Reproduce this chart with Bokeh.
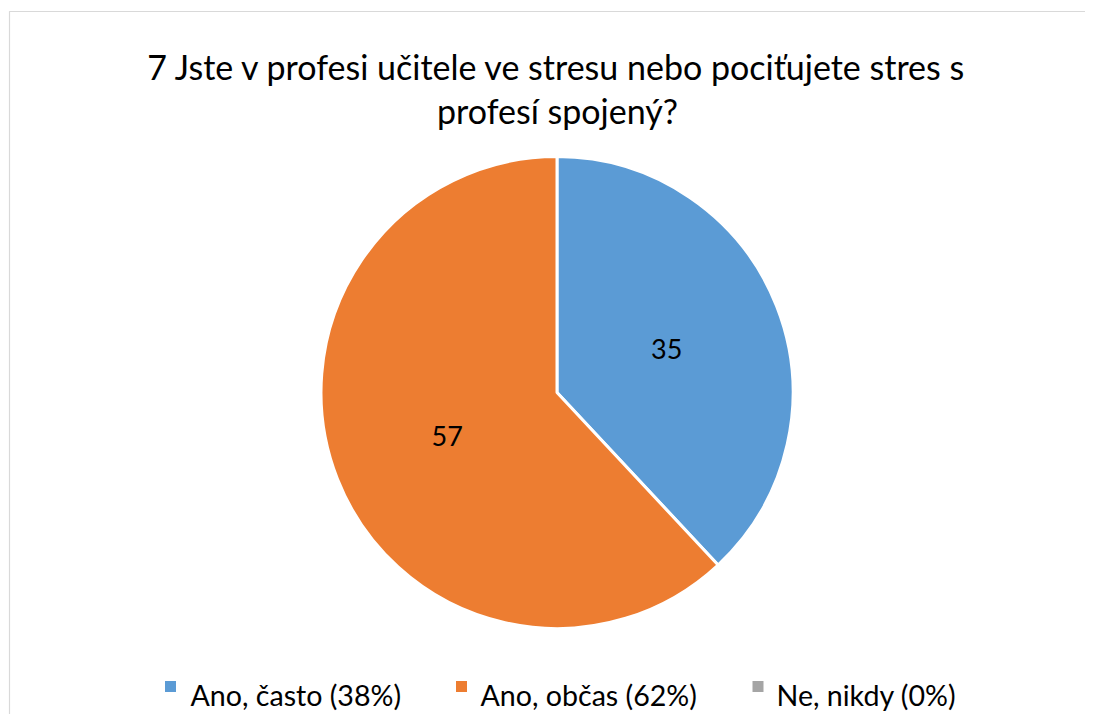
import math
from bokeh.plotting import figure
from bokeh.models import Range1d, ColumnDataSource
from bokeh.core.properties import value
from bokeh.embed import file_html
from bokeh.resources import INLINE

title_lines = ["7 Jste v profesi učitele ve stresu nebo pociťujete stres s", "profesí spojený?"]
categories = ["Ano, často", "Ano, občas", "Ne, nikdy"]
counts = [35, 57, 0]
percent_labels = ["38%", "62%", "0%"]
colors = ["#5b9bd5", "#ed7d31", "#a5a5a5"]

W, H = 1085, 714
FONT = value("Lato")

p = figure(width=W, height=H, output_backend="svg", toolbar_location=None,
           x_range=Range1d(0, W), y_range=Range1d(0, H), min_border=0)
p.axis.visible = False
p.grid.visible = False
p.outline_line_color = None
p.background_fill_color = "white"

def sy(screen_y):
    return H - screen_y

def sx(screen_x):
    return screen_x

# chart area border (partially visible: left and top)
p.line(x=[sx(9), sx(9), W + 5], y=[-5, sy(11), sy(11)], line_color="#d9d9d9", line_width=1.2)

# title
p.text(x=[sx(557)] * 2, y=[sy(66), sy(110)], text=title_lines, text_font=FONT,
       text_font_size="34px", text_align="center", text_baseline="alphabetic", text_color="#000000")

# pie
cx, cy, r = sx(556.5), sy(392), 236
total = sum(counts)
starts, ends, cols, mids, labs = [], [], [], [], []
acc = 0
for c, col in zip(counts, colors):
    a0 = math.pi / 2 - 2 * math.pi * acc / total
    acc += c
    a1 = math.pi / 2 - 2 * math.pi * acc / total
    if c > 0:
        starts.append(a0)
        ends.append(a1)
        cols.append(col)
        mids.append((a0 + a1) / 2)
        labs.append(str(c))
src = ColumnDataSource(dict(s=starts, e=ends, c=cols))
p.wedge(x=cx, y=cy, radius=r, start_angle="s", end_angle="e", direction="clock",
        fill_color="c", line_color="white", line_width=3, source=src)

lx = [cx + 0.5 * r * math.cos(m) for m in mids]
ly = [cy + 0.5 * r * math.sin(m) for m in mids]
p.text(x=lx, y=ly, text=labs, text_font=FONT, text_font_size="27px",
       text_align="center", text_baseline="middle", text_color="#000000")

# legend
leg_sq_x = [sx(170), sx(461), sx(757.5)]
leg_tx = [sx(190), sx(480), sx(776)]
leg_y = sy(686)
p.rect(x=leg_sq_x, y=[leg_y] * 3, width=11, height=11, fill_color=colors, line_color=None)
leg_text = [f"{c} ({pc})" for c, pc in zip(categories, percent_labels)]
p.text(x=leg_tx, y=[sy(694)] * 3, text=leg_text, text_font=FONT, text_font_size="28.6px",
       text_align="left", text_baseline="alphabetic", text_color="#000000")

open("out.html", "w").write(file_html(p, INLINE))
